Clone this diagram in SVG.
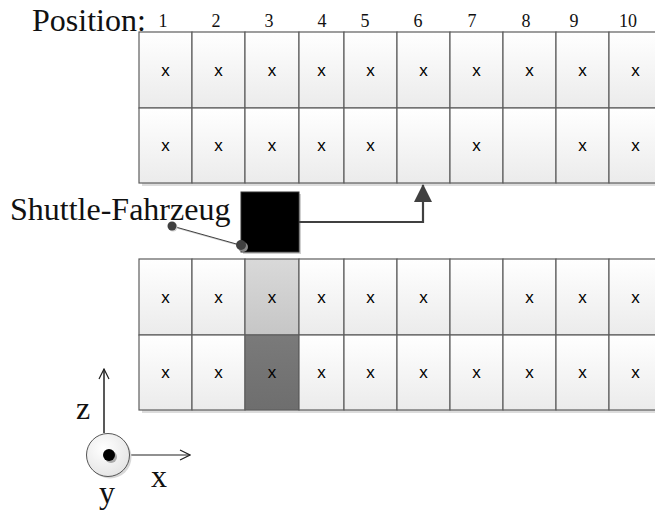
<svg xmlns="http://www.w3.org/2000/svg" width="655" height="514" viewBox="0 0 655 514">
  <defs>
    <linearGradient id="cellFill" x1="0" y1="0" x2="0" y2="1">
      <stop offset="0" stop-color="#ffffff"/>
      <stop offset="1" stop-color="#ebebeb"/>
    </linearGradient>
    <linearGradient id="lightFill" x1="0" y1="0" x2="0" y2="1">
      <stop offset="0" stop-color="#d9d9d9"/>
      <stop offset="1" stop-color="#c6c6c6"/>
    </linearGradient>
    <linearGradient id="darkFill" x1="0" y1="0" x2="0" y2="1">
      <stop offset="0" stop-color="#7a7a7a"/>
      <stop offset="1" stop-color="#6e6e6e"/>
    </linearGradient>
    <radialGradient id="discFill" cx="0.4" cy="0.35" r="0.7">
      <stop offset="0" stop-color="#ffffff"/>
      <stop offset="1" stop-color="#e4e4e4"/>
    </radialGradient>
    <marker id="openHead" viewBox="0 0 12 12" refX="11" refY="6" markerWidth="12" markerHeight="12" markerUnits="userSpaceOnUse" orient="auto">
      <path d="M1,1 L11,6 L1,11" fill="none" stroke="#222" stroke-width="1.2"/>
    </marker>
    <marker id="solidHead" viewBox="0 0 18 18" refX="17" refY="9" markerWidth="18" markerHeight="18" markerUnits="userSpaceOnUse" orient="auto">
      <path d="M0,0 L18,9 L0,18 Z" fill="#404040"/>
    </marker>
  </defs>
  <style>
    .cell rect { fill: url(#cellFill); stroke: #5e5e5e; stroke-width: 1.2; }
    .cell.light rect { fill: url(#lightFill); }
    .cell.dark rect { fill: url(#darkFill); }
    .cell text { font-family: "Liberation Sans", Arial, sans-serif; font-size: 17px; fill: #000; text-anchor: middle; }
    .shadow { fill: #dcdcdc; }
    .serif { font-family: "Liberation Serif", "Times New Roman", serif; fill: #111; }
    .big { font-size: 32px; }
    .num { font-size: 18px; text-anchor: middle; }
    .conn { fill: none; stroke: #404040; }
  </style>

  <!-- drop shadows under the two rack blocks -->
  <rect class="shadow" x="142" y="35" width="520" height="151"/>
  <rect class="shadow" x="142" y="262" width="520" height="151"/>

  <!-- position numbers -->
  <text class="serif big" x="32" y="31">Position:</text>
  <g class="serif num">
    <text x="163" y="27">1</text>
    <text x="216" y="27">2</text>
    <text x="269" y="27">3</text>
    <text x="322" y="27">4</text>
    <text x="365" y="27">5</text>
    <text x="418" y="27">6</text>
    <text x="472" y="27">7</text>
    <text x="526" y="27">8</text>
    <text x="574" y="27">9</text>
    <text x="628" y="27">10</text>
  </g>

  <!-- upper rack, row 1 -->
  <g id="u1-1" class="cell"><rect x="139" y="32" width="53" height="76"/><text x="165.5" y="76">x</text></g>
  <g id="u1-2" class="cell"><rect x="192" y="32" width="53" height="76"/><text x="218.5" y="76">x</text></g>
  <g id="u1-3" class="cell"><rect x="245" y="32" width="54" height="76"/><text x="272" y="76">x</text></g>
  <g id="u1-4" class="cell"><rect x="299" y="32" width="45" height="76"/><text x="321.5" y="76">x</text></g>
  <g id="u1-5" class="cell"><rect x="344" y="32" width="53" height="76"/><text x="370.5" y="76">x</text></g>
  <g id="u1-6" class="cell"><rect x="397" y="32" width="53" height="76"/><text x="423.5" y="76">x</text></g>
  <g id="u1-7" class="cell"><rect x="450" y="32" width="53" height="76"/><text x="476.5" y="76">x</text></g>
  <g id="u1-8" class="cell"><rect x="503" y="32" width="53" height="76"/><text x="529.5" y="76">x</text></g>
  <g id="u1-9" class="cell"><rect x="556" y="32" width="53" height="76"/><text x="582.5" y="76">x</text></g>
  <g id="u1-10" class="cell"><rect x="609" y="32" width="53" height="76"/><text x="635.5" y="76">x</text></g>

  <!-- upper rack, row 2 -->
  <g id="u2-1" class="cell"><rect x="139" y="108" width="53" height="75"/><text x="165.5" y="151">x</text></g>
  <g id="u2-2" class="cell"><rect x="192" y="108" width="53" height="75"/><text x="218.5" y="151">x</text></g>
  <g id="u2-3" class="cell"><rect x="245" y="108" width="54" height="75"/><text x="272" y="151">x</text></g>
  <g id="u2-4" class="cell"><rect x="299" y="108" width="45" height="75"/><text x="321.5" y="151">x</text></g>
  <g id="u2-5" class="cell"><rect x="344" y="108" width="53" height="75"/><text x="370.5" y="151">x</text></g>
  <g id="u2-6" class="cell"><rect x="397" y="108" width="53" height="75"/></g>
  <g id="u2-7" class="cell"><rect x="450" y="108" width="53" height="75"/><text x="476.5" y="151">x</text></g>
  <g id="u2-8" class="cell"><rect x="503" y="108" width="53" height="75"/></g>
  <g id="u2-9" class="cell"><rect x="556" y="108" width="53" height="75"/><text x="582.5" y="151">x</text></g>
  <g id="u2-10" class="cell"><rect x="609" y="108" width="53" height="75"/><text x="635.5" y="151">x</text></g>

  <!-- lower rack, row 1 -->
  <g id="l1-1" class="cell"><rect x="139" y="259" width="53" height="76"/><text x="165.5" y="303">x</text></g>
  <g id="l1-2" class="cell"><rect x="192" y="259" width="53" height="76"/><text x="218.5" y="303">x</text></g>
  <g id="l1-3" class="cell light"><rect x="245" y="259" width="54" height="76"/><text x="272" y="303">x</text></g>
  <g id="l1-4" class="cell"><rect x="299" y="259" width="45" height="76"/><text x="321.5" y="303">x</text></g>
  <g id="l1-5" class="cell"><rect x="344" y="259" width="53" height="76"/><text x="370.5" y="303">x</text></g>
  <g id="l1-6" class="cell"><rect x="397" y="259" width="53" height="76"/><text x="423.5" y="303">x</text></g>
  <g id="l1-7" class="cell"><rect x="450" y="259" width="53" height="76"/></g>
  <g id="l1-8" class="cell"><rect x="503" y="259" width="53" height="76"/><text x="529.5" y="303">x</text></g>
  <g id="l1-9" class="cell"><rect x="556" y="259" width="53" height="76"/><text x="582.5" y="303">x</text></g>
  <g id="l1-10" class="cell"><rect x="609" y="259" width="53" height="76"/><text x="635.5" y="303">x</text></g>

  <!-- lower rack, row 2 -->
  <g id="l2-1" class="cell"><rect x="139" y="335" width="53" height="75"/><text x="165.5" y="378">x</text></g>
  <g id="l2-2" class="cell"><rect x="192" y="335" width="53" height="75"/><text x="218.5" y="378">x</text></g>
  <g id="l2-3" class="cell dark"><rect x="245" y="335" width="54" height="75"/><text x="272" y="378">x</text></g>
  <g id="l2-4" class="cell"><rect x="299" y="335" width="45" height="75"/><text x="321.5" y="378">x</text></g>
  <g id="l2-5" class="cell"><rect x="344" y="335" width="53" height="75"/><text x="370.5" y="378">x</text></g>
  <g id="l2-6" class="cell"><rect x="397" y="335" width="53" height="75"/><text x="423.5" y="378">x</text></g>
  <g id="l2-7" class="cell"><rect x="450" y="335" width="53" height="75"/><text x="476.5" y="378">x</text></g>
  <g id="l2-8" class="cell"><rect x="503" y="335" width="53" height="75"/><text x="529.5" y="378">x</text></g>
  <g id="l2-9" class="cell"><rect x="556" y="335" width="53" height="75"/><text x="582.5" y="378">x</text></g>
  <g id="l2-10" class="cell"><rect x="609" y="335" width="53" height="75"/><text x="635.5" y="378">x</text></g>

  <!-- shuttle vehicle -->
  <g id="shuttle">
    <rect x="243" y="194" width="58" height="60" fill="#cfcfcf"/>
    <rect x="241" y="192" width="58" height="60" fill="#000" stroke="#333" stroke-width="1"/>
  </g>

  <!-- label with leader -->
  <g id="shuttle-label">
    <text class="serif big" x="10" y="220">Shuttle-Fahrzeug</text>
  </g>

  <!-- connectors -->
  <g id="connectors">
    <path class="conn" d="M299,222 H423 V185" stroke-width="2.2" marker-end="url(#solidHead)"/>
    <line x1="173" y1="227" x2="241" y2="246" stroke="#cfcfcf" stroke-width="1.2"/>
    <line x1="172" y1="226" x2="240" y2="245" stroke="#404040" stroke-width="1"/>
    <circle cx="173" cy="227" r="4.5" fill="#cfcfcf"/>
    <circle cx="172" cy="226" r="4.5" fill="#404040"/>
    <circle cx="243" cy="247" r="5" fill="#888"/>
    <circle cx="241" cy="245" r="5" fill="#404040"/>
  </g>

  <!-- coordinate axes -->
  <g id="axes">
    <line x1="104" y1="433" x2="104" y2="369" stroke="#222" stroke-width="1.5" marker-end="url(#openHead)"/>
    <line x1="130" y1="455" x2="190" y2="455" stroke="#222" stroke-width="1.2" marker-end="url(#openHead)"/>
    <circle cx="110" cy="457" r="21.5" fill="#d8d8d8"/>
    <circle cx="108" cy="455" r="21.5" fill="url(#discFill)" stroke="#555" stroke-width="1"/>
    <circle cx="111" cy="457" r="6" fill="#aaa"/>
    <circle cx="109" cy="455" r="6" fill="#000"/>
    <text class="serif big" x="76" y="419">z</text>
    <text class="serif big" x="151" y="487">x</text>
    <text class="serif big" x="99" y="503">y</text>
  </g>
</svg>
